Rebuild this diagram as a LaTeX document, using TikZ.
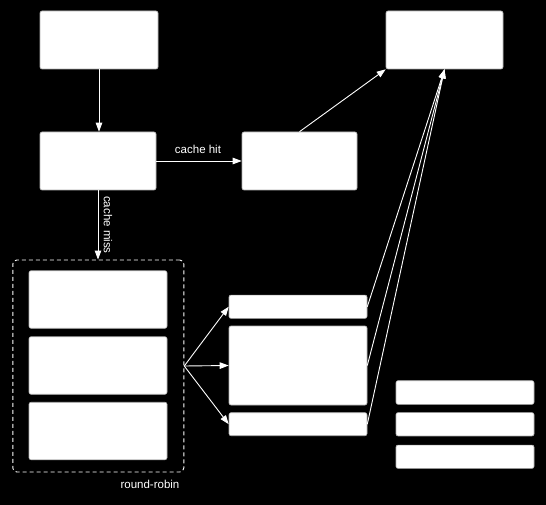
\documentclass[tikz,border=0pt]{standalone}
\usepackage{fontspec}
\setmainfont{Liberation Sans}
\usetikzlibrary{arrows.meta}
\begin{document}
\begin{tikzpicture}[x=1pt,y=-1pt,
  box/.style={fill=white,draw=black!30,line width=0.6pt,rounded corners=2pt,inner sep=0pt},
  conn/.style={draw=white,line width=0.9pt,-{Triangle[width=6.5pt,length=9pt]}},
  lbl/.style={text=white,font=\fontsize{11.5}{13}\selectfont,inner sep=0pt}]
\fill[black] (0,0) rectangle (546,505);
\useasboundingbox (0,0) rectangle (546,505);
% top row
\node[box,minimum width=118pt,minimum height=58pt] (a) at (99,40) {};
\node[box,minimum width=117pt,minimum height=58pt] (tr) at (444.5,40) {};
% middle row
\node[box,minimum width=116pt,minimum height=58pt] (b) at (98,161) {};
\node[box,minimum width=115pt,minimum height=58pt] (c) at (299.5,161) {};
% dashed group
\node[draw=white,dash pattern=on 4pt off 3pt,line width=0.9pt,rounded corners=4pt,inner sep=0pt,
      minimum width=171pt,minimum height=212pt] (g) at (98.3,366) {};
\node[box,minimum width=138pt,minimum height=57.5pt] (g1) at (98,299.5) {};
\node[box,minimum width=138pt,minimum height=57.5pt] (g2) at (98,365.5) {};
\node[box,minimum width=138pt,minimum height=57.5pt] (g3) at (98,431) {};
% right column
\node[box,minimum width=138pt,minimum height=23.3pt] (r1) at (298,306.7) {};
\node[box,minimum width=138pt,minimum height=79pt] (r2) at (298,365.5) {};
\node[box,minimum width=138pt,minimum height=23pt] (r3) at (298,424.2) {};
% far right
\node[box,minimum width=138pt,minimum height=23.6pt] (f1) at (465,392.5) {};
\node[box,minimum width=138pt,minimum height=23.3pt] (f2) at (465,424.3) {};
\node[box,minimum width=138pt,minimum height=23.3pt] (f3) at (465,456.7) {};
% connectors
\draw[conn] (a.south) -- (a.south |- b.north);
\draw[conn] (b.east) -- (c.west);
\draw[conn] (c.north) -- (tr.south west);
\draw[conn] (b.south) -- (b.south |- g.north);
\draw[conn] (g.east) -- (r1.west);
\draw[conn] (g.east) -- (r2.west);
\draw[conn] (g.east) -- (r3.west);
\draw[conn] (r1.east) -- (tr.south);
\draw[conn] (r2.east) -- (tr.south);
\draw[conn] (r3.east) -- (tr.south);
% labels
\node[lbl] (lhit) at (198,149) {cache hit};
\node[lbl,rotate=-90] (lmiss) at (108,225) {cache miss};
\node[lbl] (lrr) at (150,484) {round-robin};
\end{tikzpicture}
\end{document}
